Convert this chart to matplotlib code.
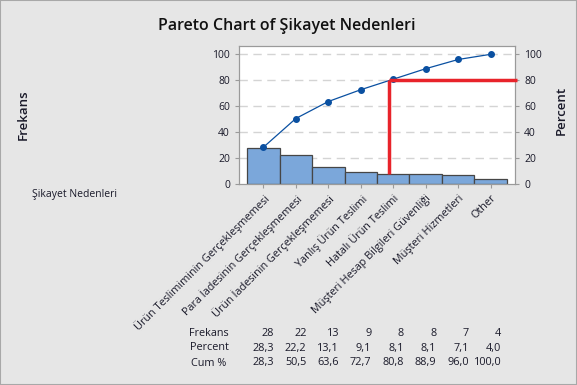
import numpy as np
import matplotlib
matplotlib.use("Agg")
import matplotlib.pyplot as plt
import matplotlib.transforms as mtransforms

plt.rcParams['font.family'] = ['Open Sans', 'DejaVu Sans']

categories = ["Ürün Teslimiminin Gerçekleşmemesi",
              "Para İadesinin Gerçekleşmemesi",
              "Ürün İadesinin Gerçekleşmemesi",
              "Yanlış Ürün Teslimi",
              "Hatalı Ürün Teslimi",
              "Müşteri Hesap Bilgileri Güvenliği",
              "Müşteri Hizmetleri",
              "Other"]
counts = [28, 22, 13, 9, 8, 8, 7, 4]
percent = [28.3, 22.2, 13.1, 9.1, 8.1, 8.1, 7.1, 4.0]
cum_pct = [28.3, 50.5, 63.6, 72.7, 80.8, 88.9, 96.0, 100.0]

BG = "#e6e6e6"
BAR = "#7ba7da"
LINE = "#0a50a1"
GRAY = "#9a9a9a"
TXT = "#1a1a2a"

fig = plt.figure(figsize=(5.77, 3.85), dpi=100, facecolor=BG)
fig.patches.append(plt.Rectangle((0, 0), 1, 1, transform=fig.transFigure,
                                 fill=False, edgecolor="#a8a8a8", lw=1.5))

W, H = 577, 385
ax = fig.add_axes([239 / W, 1 - 184 / H, (515 - 239) / W, (184 - 46) / H])
ax.set_facecolor("white")
x = np.arange(len(categories))
ax.bar(x, counts, width=1.0, color=BAR, edgecolor="#464646", linewidth=0.9, zorder=2)
ax.set_xlim(-0.75, 7.75)
ax.set_ylim(0, 106.4)
ax.set_yticks([0, 20, 40, 60, 80, 100])
for v in [20, 40, 60, 80, 100]:
    ax.axhline(v, color="#d4d4d4", lw=1.0, ls=(0, (6, 4)), zorder=1)

ax2 = ax.twinx()
ax2.set_ylim(0, 106.4)
ax2.set_yticks([0, 20, 40, 60, 80, 100])
ax2.plot(x, cum_pct, color=LINE, lw=0.9, marker="o", ms=4, zorder=3)

for a in (ax, ax2):
    for s in a.spines.values():
        s.set_color(GRAY)
    a.tick_params(colors=GRAY, labelcolor=TXT, labelsize=7.5, length=3)

ax.set_xticks(x)
ax.set_xticklabels(categories, rotation=45, ha="right", rotation_mode="anchor",
                   fontsize=7.8)

# 80% reference lines
ax2.plot([3.87, 3.87], [7.7, 80], color="#e8232a", lw=2.5, zorder=4,
         solid_capstyle="butt")
ax2.plot([3.87, 7.8], [80, 80], color="#e8232a", lw=2.5, zorder=4,
         clip_on=False, solid_capstyle="butt")

fig.text(287 / W, 1 - 26 / H, "Pareto Chart of Şikayet Nedenleri", ha="center",
         va="center", fontsize=11.5, fontweight="semibold", color="#111111")
fig.text(23 / W, 1 - 115 / H, "Frekans", rotation=90, ha="center", va="center",
         fontsize=9.5, fontweight="semibold", color=TXT)
fig.text(561 / W, 1 - 110 / H, "Percent", rotation=90, ha="center", va="center",
         fontsize=9.5, fontweight="semibold", color=TXT)
fig.text(32 / W, 1 - 195 / H, "Şikayet Nedenleri", ha="left", va="center",
         fontsize=7.5, color=TXT)

# table under the chart
tr = mtransforms.blended_transform_factory(ax.transData, fig.transFigure)
rows = [("Frekans", [str(c) for c in counts], 333),
        ("Percent", [f"{p:.1f}".replace(".", ",") for p in percent], 348),
        ("Cum %", [f"{p:.1f}".replace(".", ",") for p in cum_pct], 363)]
for name, vals, ypx in rows:
    fig.text(209 / W, 1 - ypx / H, name, ha="center", va="center",
             fontsize=7.8, color=TXT)
    for i, v in enumerate(vals):
        ax.text(i + 0.33, 1 - ypx / H, v, transform=tr, ha="right", va="center",
                fontsize=7.8, color=TXT, clip_on=False)

fig.savefig("out.png", dpi=100, facecolor=BG)
